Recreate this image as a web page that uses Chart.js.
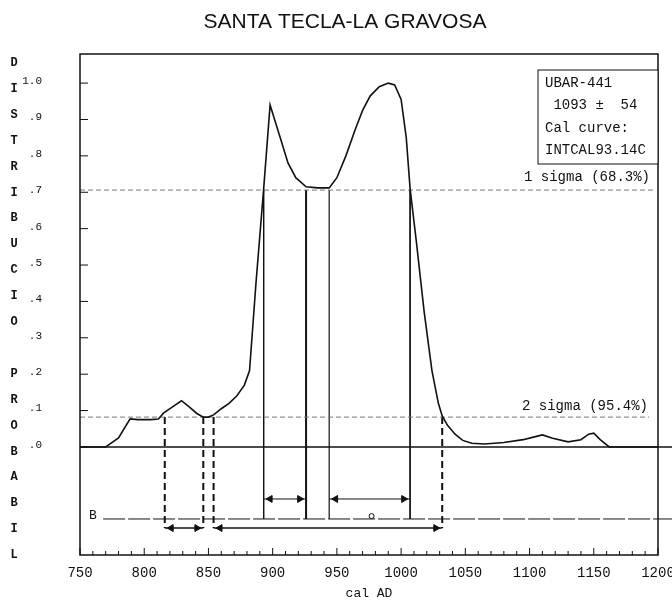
<!DOCTYPE html>
<html>
<head>
<meta charset="utf-8">
<script src="https://cdn.jsdelivr.net/npm/chart.js@4/dist/chart.umd.min.js"></script>
<style>
  html, body { margin: 0; padding: 0; background: #fff; }
</style>
</head>
<body>
<canvas id="calChart" width="672" height="601"></canvas>
<script>
// calibrated date distribution
const years = [750, 770, 772, 780, 789, 795, 805, 811, 815, 822, 829, 835, 841, 846, 850, 854, 860, 866, 872, 878, 882, 887, 893, 898, 905, 912, 918, 926, 935, 944, 950, 957, 964, 970, 976, 983, 990, 995, 1000, 1004, 1007, 1012, 1018, 1024, 1029, 1032, 1036, 1042, 1048, 1055, 1065, 1080, 1095, 1103, 1110, 1118, 1130, 1140, 1146, 1150, 1155, 1162, 1200];
const probs = [0, 0, 0.005, 0.025, 0.077, 0.075, 0.075, 0.077, 0.093, 0.11, 0.127, 0.11, 0.092, 0.082, 0.082, 0.088, 0.105, 0.12, 0.14, 0.17, 0.21, 0.45, 0.71, 0.94, 0.86, 0.78, 0.74, 0.715, 0.712, 0.712, 0.74, 0.80, 0.87, 0.925, 0.965, 0.99, 1.0, 0.995, 0.955, 0.85, 0.71, 0.56, 0.37, 0.21, 0.12, 0.085, 0.06, 0.035, 0.018, 0.01, 0.008, 0.012, 0.02, 0.027, 0.033, 0.024, 0.014, 0.02, 0.035, 0.038, 0.02, 0, 0];

const oneSigmaLevel = 0.706;
const twoSigmaLevel = 0.082;
const oneSigmaRanges = [[893, 926], [944, 1007]];
const twoSigmaRanges = [[816, 846], [854, 1032]];
const medianYear = 977;

const xTickLabels = [750, 800, 850, 900, 950, 1000, 1050, 1100, 1150, 1200];
const yTickValues = [0, 0.1, 0.2, 0.3, 0.4, 0.5, 0.6, 0.7, 0.8, 0.9, 1.0];

const chartTitle = 'SANTA TECLA-LA GRAVOSA';
const legendLines = ['UBAR-441', ' 1093 \u00b1  54', 'Cal curve:', 'INTCAL93.14C'];
const axisLetters = 'DISTRIBUCIO PROBABIL';

const MONO = '"Liberation Mono", "DejaVu Sans Mono", monospace';
const INK = '#111';
const ROW_1S = -0.143, ROW_B = -0.198, ROW_2S = -0.223;

function seg(x1, y1, x2, y2) { return [{x: x1, y: y1}, {x: x2, y: y2}]; }

function lineSet(data, opts) {
    return Object.assign({
        data: data, showLine: true, borderColor: INK, borderWidth: 1,
        pointRadius: 0, fill: false, tension: 0
    }, opts || {});
}

function arrowHeads(a, b, row, inset) {
    return {
        data: [{x: a + inset, y: row}, {x: b - inset, y: row}],
        showLine: false,
        pointStyle: 'triangle',
        pointRadius: 4,
        pointRotation: ctx => ctx.dataIndex === 0 ? 270 : 90,
        pointBackgroundColor: INK,
        pointBorderColor: INK,
        pointBorderWidth: 1
    };
}

window.onload = function() {
    const datasets = [];

    datasets.push(lineSet(years.map((x, i) => ({x: x, y: probs[i]})), {borderWidth: 1.6}));
    datasets.push(lineSet(seg(750, 0, 1212, 0), {borderWidth: 1.5, clip: false}));
    datasets.push(lineSet(seg(750, oneSigmaLevel, 1196, oneSigmaLevel), {borderColor: '#777', borderDash: [5, 3]}));
    datasets.push(lineSet(seg(750, twoSigmaLevel, 1193, twoSigmaLevel), {borderColor: '#777', borderDash: [5, 3]}));
    datasets.push(lineSet(seg(768, ROW_B, 1212, ROW_B), {borderDash: [22, 3], clip: false}));

    oneSigmaRanges.forEach(([a, b], i) => {
        datasets.push(lineSet(seg(a, oneSigmaLevel, a, ROW_B), {borderWidth: i === 0 ? 1 : 1.2}));
        datasets.push(lineSet(seg(b, oneSigmaLevel, b, ROW_B), {borderWidth: i === 0 ? 2 : 1}));
        datasets.push(lineSet(seg(a, ROW_1S, b, ROW_1S)));
        datasets.push(arrowHeads(a, b, ROW_1S, 5));
    });

    twoSigmaRanges.forEach(([a, b]) => {
        datasets.push(lineSet(seg(a, twoSigmaLevel, a, ROW_2S), {borderWidth: 2, borderDash: [7, 4]}));
        datasets.push(lineSet(seg(b, twoSigmaLevel, b, ROW_2S), {borderWidth: 2, borderDash: [7, 4]}));
        datasets.push(lineSet(seg(a, ROW_2S, b, ROW_2S), {borderWidth: 1.5}));
        datasets.push(arrowHeads(a, b, ROW_2S, 5));
    });

    datasets.push({
        data: [{x: medianYear, y: ROW_B + 0.008}],
        showLine: false, pointRadius: 2.5, pointStyle: 'circle',
        pointBackgroundColor: '#fff', pointBorderColor: INK, pointBorderWidth: 1
    });

    const framePlugin = {
        id: 'frame',
        afterDraw(chart) {
            const {ctx, chartArea: a, scales: {x, y}} = chart;
            ctx.save();
            ctx.strokeStyle = INK;
            ctx.lineWidth = 1.5;
            ctx.strokeRect(a.left, a.top, a.right - a.left, a.bottom - a.top);

            // ticks point inward
            ctx.lineWidth = 1;
            ctx.beginPath();
            for (let v = 750; v <= 1200; v += 10) {
                const px = x.getPixelForValue(v);
                ctx.moveTo(px, a.bottom);
                ctx.lineTo(px, a.bottom - (v % 50 === 0 ? 7 : 4));
            }
            yTickValues.forEach(v => {
                const py = y.getPixelForValue(v);
                ctx.moveTo(a.left, py);
                ctx.lineTo(a.left + 8, py);
            });
            ctx.stroke();

            // title, a little right of the canvas centre as in the original
            ctx.fillStyle = INK;
            ctx.textAlign = 'center';
            ctx.textBaseline = 'middle';
            ctx.font = '21px "Liberation Sans", Arial, sans-serif';
            ctx.fillText(chartTitle, 345, 22);

            // vertical axis caption, one letter per row
            ctx.font = 'bold 12px ' + MONO;
            axisLetters.split('').forEach((ch, i) => {
                if (ch !== ' ') ctx.fillText(ch, 14, 63 + i * 25.9);
            });

            // "B" marker on the range row
            ctx.font = '13px ' + MONO;
            ctx.fillText('B', 93, y.getPixelForValue(ROW_B) - 3);

            // legend box
            ctx.fillStyle = '#fff';
            ctx.fillRect(538, 70, a.right - 538, 94);
            ctx.strokeStyle = INK;
            ctx.lineWidth = 1;
            ctx.strokeRect(538, 70, a.right - 538, 94);
            ctx.fillStyle = INK;
            ctx.font = '14px ' + MONO;
            ctx.textAlign = 'left';
            legendLines.forEach((t, i) => ctx.fillText(t, 545, 83 + i * 22.4));

            // sigma captions
            ctx.textAlign = 'right';
            ctx.fillText('1 sigma (68.3%)', 650, y.getPixelForValue(oneSigmaLevel) - 13);
            ctx.fillText('2 sigma (95.4%)', 648, y.getPixelForValue(twoSigmaLevel) - 11);
            ctx.restore();
        }
    };

    const ctx = document.getElementById('calChart').getContext('2d');
    const calChart = new Chart(ctx, {
        type: 'scatter',
        data: { datasets: datasets },
        options: {
            responsive: false,
            animation: false,
            layout: { padding: { left: 0, right: 14, top: 54, bottom: 0 } },
            plugins: {
                legend: { display: false },
                tooltip: { enabled: false },
                title: { display: false }
            },
            scales: {
                x: {
                    type: 'linear',
                    min: 750,
                    max: 1200,
                    grid: { display: false },
                    border: { display: false },
                    afterBuildTicks: s => { s.ticks = xTickLabels.map(v => ({value: v})); },
                    afterFit: s => { s.height = 46; s.paddingLeft = 0; s.paddingRight = 0; },
                    ticks: {
                        autoSkip: false, maxRotation: 0, padding: 2, color: INK,
                        font: { family: MONO, size: 14 },
                        callback: v => String(v)
                    },
                    title: {
                        display: true, text: 'cal AD', color: INK,
                        font: { family: MONO, size: 13 },
                        padding: { top: 0, bottom: 0 }
                    }
                },
                y: {
                    min: -0.297,
                    max: 1.08,
                    grid: { display: false },
                    border: { display: false },
                    afterBuildTicks: s => { s.ticks = yTickValues.map(v => ({value: v})); },
                    afterFit: s => { s.width = 80; s.paddingTop = 0; s.paddingBottom = 0; },
                    ticks: {
                        padding: 30, color: INK, labelOffset: -2,
                        font: { family: MONO, size: 11 },
                        callback: v => v >= 0.999 ? '1.0' : '.' + Math.round(v * 10)
                    }
                }
            }
        },
        plugins: [framePlugin]
    });
};
</script>
</body>
</html>
